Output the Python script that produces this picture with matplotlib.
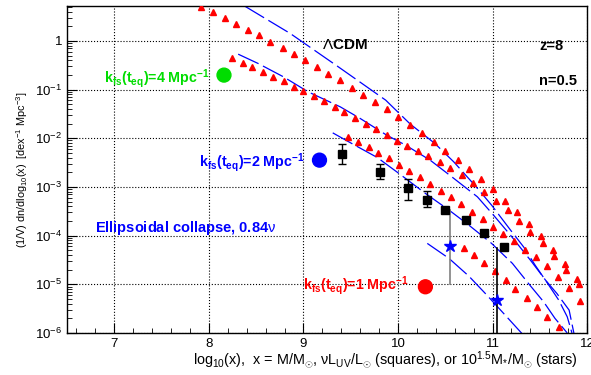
import numpy as np
import matplotlib
matplotlib.use("Agg")
import matplotlib.pyplot as plt
from matplotlib.ticker import LogLocator, MultipleLocator, FuncFormatter, NullFormatter

plt.rcParams['font.family'] = ['Liberation Sans', 'DejaVu Sans']
plt.rcParams['mathtext.fontset'] = 'custom'
plt.rcParams['mathtext.rm'] = 'Liberation Sans'
plt.rcParams['mathtext.it'] = 'Liberation Sans'
plt.rcParams['mathtext.bf'] = 'Liberation Sans:bold'

# red triangles, four series
tri1_x = [7.92, 8.04, 8.17, 8.29, 8.41, 8.53, 8.65, 8.78, 8.90, 9.02, 9.14, 9.26, 9.39, 9.51, 9.63,
          9.76, 9.88, 10.00, 10.13, 10.25, 10.38, 10.50, 10.63, 10.75, 10.88, 11.01, 11.13, 11.26,
          11.39, 11.51, 11.64, 11.77, 11.89]
tri1_y = [4.9, 3.83, 2.92, 2.20, 1.68, 1.29, 0.954, 0.718, 0.533, 0.396, 0.288, 0.207, 0.154, 0.108,
          0.0778, 0.0551, 0.0396, 0.0275, 0.0186, 0.0126, 0.00843, 0.00551, 0.00355, 0.00229, 0.00143,
          8.89e-4, 5.19e-4, 3.04e-4, 1.72e-4, 9.77e-5, 5.04e-5, 2.60e-5, 1.26e-5]
tri2_x = [8.25, 8.36, 8.46, 8.57, 8.68, 8.79, 8.90, 9.00, 9.11, 9.22, 9.33, 9.43, 9.55, 9.66, 9.77,
          9.88, 9.99, 10.10, 10.21, 10.32, 10.44, 10.55, 10.68, 10.79, 10.91, 11.04, 11.16, 11.28,
          11.40, 11.53, 11.65, 11.78, 11.91]
tri2_y = [0.441, 0.353, 0.288, 0.231, 0.182, 0.147, 0.115, 0.0918, 0.0722, 0.0578, 0.0435, 0.0339,
          0.0262, 0.0200, 0.0152, 0.0115, 0.00885, 0.00698, 0.00548, 0.00433, 0.00331, 0.00249,
          0.00175, 0.00119, 7.89e-4, 5.11e-4, 3.29e-4, 2.01e-4, 1.18e-4, 6.92e-5, 3.74e-5, 1.96e-5,
          9.95e-6]
tri3_x = [9.47, 9.58, 9.69, 9.79, 9.90, 10.01, 10.12, 10.23, 10.34, 10.45, 10.56, 10.67, 10.78,
          10.90, 11.01, 11.11, 11.23, 11.34, 11.46, 11.58, 11.69, 11.81, 11.93]
tri3_y = [0.0107, 0.00839, 0.00650, 0.00499, 0.00387, 0.00287, 0.00214, 0.00159, 0.00117, 8.32e-4,
          6.11e-4, 4.39e-4, 2.99e-4, 2.18e-4, 1.47e-4, 1.07e-4, 7.60e-5, 5.16e-5, 3.62e-5, 2.36e-5,
          1.43e-5, 8.24e-6, 4.58e-6]
tri4_x = [10.70, 10.80, 10.91, 11.03, 11.14, 11.24, 11.36, 11.47, 11.58, 11.70]
tri4_y = [5.53e-5, 3.98e-5, 2.72e-5, 1.87e-5, 1.25e-5, 8.09e-6, 5.33e-6, 3.45e-6, 2.15e-6, 1.32e-6]

# blue dashed curves
dash1_x = [8.38, 8.86, 9.37, 9.87, 10.13, 10.39, 10.59, 10.82, 10.99, 11.19, 11.33, 11.45, 11.58,
           11.70, 11.79, 11.84]
dash1_y = [5.16, 1.42, 0.292, 0.0606, 0.0195, 0.00782, 0.00327, 0.00104, 4.23e-4, 1.30e-4, 5.81e-5,
           2.48e-5, 1.06e-5, 4.74e-6, 2.15e-6, 1.0e-6]
dash2_x = [8.31, 8.52, 8.79, 9.05, 9.39, 9.60, 9.88, 10.08, 10.34, 10.59, 10.84, 11.01, 11.19, 11.40,
           11.56, 11.68, 11.81, 11.86]
dash2_y = [0.533, 0.344, 0.182, 0.0897, 0.0441, 0.0255, 0.0116, 0.00722, 0.00355, 0.00150, 6.26e-4,
           2.64e-4, 1.02e-4, 3.14e-5, 1.22e-5, 6.50e-6, 2.95e-6, 1.0e-6]
dash3_x = [9.31, 9.51, 9.78, 10.02, 10.29, 10.54, 10.75, 10.99, 11.21, 11.38, 11.54, 11.66, 11.79]
dash3_y = [0.0129, 0.00782, 0.00403, 0.00183, 7.36e-4, 3.34e-4, 1.64e-4, 6.92e-5, 2.69e-5, 1.04e-5,
           4.38e-6, 2.00e-6, 1.0e-6]
dash4_x = [10.31, 10.54, 10.75, 10.94, 11.15, 11.31]
dash4_y = [6.92e-5, 3.40e-5, 1.47e-5, 6.0e-6, 2.15e-6, 9.8e-7]

# black squares (UV luminosity) with errors
sq_x = [9.41, 9.81, 10.11, 10.31, 10.50, 10.72, 10.91, 11.12]
sq_y = [4.72e-3, 2.01e-3, 9.31e-4, 5.46e-4, 3.42e-4, 2.08e-4, 1.14e-4, 5.89e-5]
sq_lo = [2.94e-3, 1.47e-3, 5.36e-4, 3.79e-4, 3.42e-4, 2.08e-4, 1.14e-4, 5.89e-5]
sq_hi = [7.57e-3, 2.90e-3, 1.43e-3, 8.2e-4, 3.42e-4, 2.08e-4, 1.14e-4, 5.89e-5]

# blue stars (stellar mass)
star_x = [10.55, 11.05]
star_y = [6.09e-5, 4.74e-6]
star_lo = [1.0e-5, 5.0e-7]
star_hi = [3.3e-4, 5.46e-5]
star_err_color = ['grey', 'black']

# big circles marking k_fs(t_eq)
circ_x = [8.16, 9.17, 10.29]
circ_y = [0.198, 3.55e-3, 8.9e-6]
circ_c = ['#00dd00', 'blue', 'red']

fig = plt.figure(figsize=(5.91, 3.75), dpi=100)
ax = fig.add_axes([0.1134, 0.112, 0.88, 0.872])
ax.set_yscale('log')
ax.set_xlim(6.5, 12)
ax.set_ylim(1e-6, 5.2)

for xs, ys in [(dash1_x, dash1_y), (dash2_x, dash2_y), (dash3_x, dash3_y), (dash4_x, dash4_y)]:
    ax.plot(xs, ys, color='blue', lw=0.9, dashes=(18, 4), zorder=2)

for xs, ys in [(tri1_x, tri1_y), (tri2_x, tri2_y), (tri3_x, tri3_y), (tri4_x, tri4_y)]:
    ax.plot(xs, ys, ls='none', marker='^', ms=4.3, color='red', mec='red', zorder=3)

for i in range(len(star_x)):
    ax.plot([star_x[i], star_x[i]], [star_lo[i], star_hi[i]], color=star_err_color[i], lw=1.2, zorder=3)
ax.plot(star_x, star_y, ls='none', marker='*', ms=9, color='blue', zorder=5)

sq_y = np.array(sq_y)
yerr = [sq_y - np.array(sq_lo), np.array(sq_hi) - sq_y]
ax.errorbar(sq_x, sq_y, yerr=yerr, fmt='s', ms=6, color='black', ecolor='black',
            elinewidth=1, capsize=3, zorder=4)

ax.scatter(circ_x, circ_y, s=100, c=circ_c, zorder=5)

ax.grid(True, which='major', color='black', ls=':', lw=0.8)
ax.xaxis.set_major_locator(MultipleLocator(1))
ax.xaxis.set_minor_locator(MultipleLocator(0.2))
ax.yaxis.set_major_locator(LogLocator(base=10, numticks=12))
ax.yaxis.set_minor_locator(LogLocator(base=10, subs=np.arange(2, 10), numticks=12))
ax.yaxis.set_minor_formatter(NullFormatter())

def ylab(v, pos):
    e = int(round(np.log10(v)))
    if e == 0:
        return '1'
    return r'$10^{%d}$' % e

ax.yaxis.set_major_formatter(FuncFormatter(ylab))
ax.tick_params(which='both', direction='in', labelsize=9.5, top=False, right=False)
ax.tick_params(which='major', length=7)
ax.tick_params(which='minor', length=3.5)
for s in ax.spines.values():
    s.set_linewidth(1.0)

# axis titles placed like ROOT: x title right-aligned at the axis end
fig.text(0.976, 0.03,
         r'log$_{10}$(x),  x = M/M$_{\odot}$, $\nu$L$_{UV}$/L$_{\odot}$ (squares), or 10$^{1.5}$M$_{*}$/M$_{\odot}$ (stars)',
         fontsize=10.4, ha='right', va='baseline')
fig.text(0.037, 0.548, r'(1/V) dn/dlog$_{10}$(x)  [dex$^{-1}$ Mpc$^{-3}$]',
         fontsize=7.8, rotation=90, ha='center', va='center')

ax.text(0.49, 0.881, r'$\Lambda$CDM', transform=ax.transAxes, fontsize=11, fontweight='bold', va='center')
ax.text(0.908, 0.879, 'z=8', transform=ax.transAxes, fontsize=10.5, fontweight='bold', va='center')
ax.text(0.908, 0.771, 'n=0.5', transform=ax.transAxes, fontsize=10.5, fontweight='bold', va='center')

klab = r'k$_{\mathbf{fs}}$(t$_{\mathbf{eq}}$)=%d Mpc$^{\mathbf{-1}}$'
ax.text(0.071, 0.777, klab % 4, transform=ax.transAxes, fontsize=10.3, fontweight='bold',
        color='#00dd00', va='center')
ax.text(0.254, 0.520, klab % 2, transform=ax.transAxes, fontsize=10.3, fontweight='bold',
        color='blue', va='center')
ax.text(0.454, 0.144, klab % 1, transform=ax.transAxes, fontsize=10.3, fontweight='bold',
        color='red', va='center')
ax.text(0.054, 0.321, r'Ellipsoidal collapse, 0.84$\nu$', transform=ax.transAxes,
        fontsize=10.5, fontweight='bold', color='blue', va='center')

fig.savefig('out.png', dpi=100)
